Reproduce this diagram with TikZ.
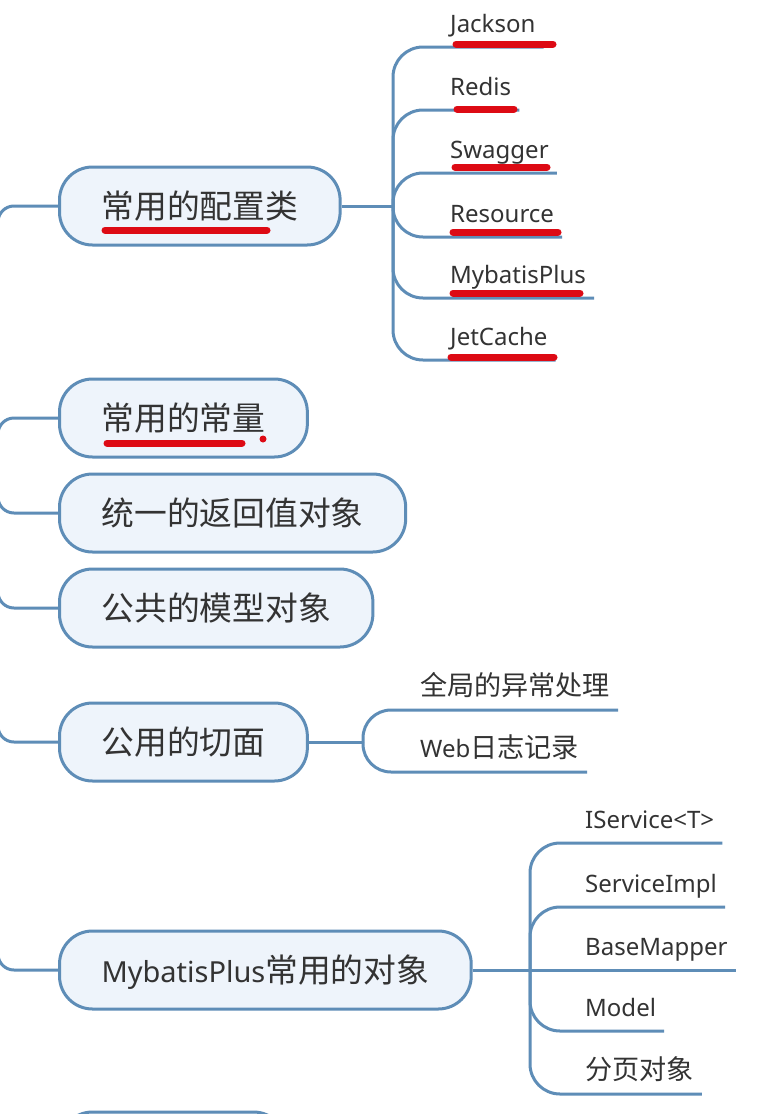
\documentclass[tikz,border=0pt]{standalone}
\usepackage{fontspec}
\setmainfont{Noto Sans}
\newfontfamily\cjk{Noto Sans CJK SC}[Scale=1.13]
\newcommand{\zh}[1]{{\cjk #1}}
\usepackage{tikz}
\definecolor{linkblue}{HTML}{5E8DB7}
\definecolor{topicfill}{HTML}{EEF4FB}
\definecolor{textgray}{HTML}{333333}
\definecolor{markred}{HTML}{DD0A14}

\begin{document}
\begin{tikzpicture}[x=1pt,y=-1pt,
      link/.style={linkblue,line width=3pt},
      topic/.style={draw=linkblue,line width=3pt,fill=topicfill,
         rounded corners=33pt,minimum height=78pt,inner xsep=42pt,
         text height=25pt,text depth=0pt,anchor=west,text=textgray,
         font=\fontsize{29}{34}\selectfont},
      leaf/.style={anchor=south west,inner xsep=8pt,inner ysep=8pt,
         text height=20pt,text depth=6pt,text=textgray,
         font=\fontsize{24}{28}\selectfont},
      redline/.style={markred,line width=7pt,line cap=round}]
            \fill [white] (0,0) rectangle (768,1114);
            \useasboundingbox (0,0) rectangle (768,1114);

            \node [topic] (cfg) at (58,206) {\zh{常用的配置类}};
            \node [topic] (const) at (58,418) {\zh{常用的常量}};
            \node [topic] (result) at (58,513) {\zh{统一的返回值对象}};
            \node [topic] (model) at (58,608) {\zh{公共的模型对象}};
            \node [topic] (aspect) at (58,742) {\zh{公用的切面}};
            \node [topic] (mpobj) at (58,970) {MybatisPlus\zh{常用的对象}};
            \node [topic,minimum width=227pt] (next) at (58,1151) {};

            \coordinate (trunk) at (-2,466);
            \foreach \topicname in {cfg,const,result,model,aspect,mpobj,next}
               \draw [link,rounded corners=16pt] (trunk) |- (\topicname.west);

            \node [leaf] (jackson) at (442,47) {Jackson};
            \node [leaf] (redis) at (442,110) {Redis};
            \node [leaf] (swagger) at (442,173) {Swagger};
            \node [leaf] (resource) at (442,237) {Resource};
            \node [leaf] (mplus) at (442,298) {MybatisPlus};
            \node [leaf] (jetcache) at (442,360) {JetCache};
            \coordinate (cfgfork) at (393,206);
            \draw [link] (cfg.east) -- (cfgfork);
            \foreach \leafname in {jackson,redis,swagger,resource,mplus,jetcache}
               \draw [link,rounded corners=30pt] (cfgfork) |- (\leafname.south east);

            \node [leaf] (handler) at (412,710) {\zh{全局的异常处理}};
            \node [leaf] (weblog) at (412,772) {Web\zh{日志记录}};
            \coordinate (aspectfork) at (363,742);
            \draw [link] (aspect.east) -- (aspectfork);
            \foreach \leafname in {handler,weblog}
               \draw [link,rounded corners=28pt] (aspectfork) |- (\leafname.south east);

            \node [leaf] (iservice) at (577,843) {IService<T>};
            \node [leaf] (serviceimpl) at (577,907) {ServiceImpl};
            \node [leaf] (basemapper) at (577,970) {BaseMapper};
            \node [leaf] (model2) at (577,1031) {Model};
            \node [leaf] (paging) at (577,1094) {\zh{分页对象}};
            \coordinate (mpfork) at (530,970);
            \draw [link] (mpobj.east) -- (basemapper.south east);
            \foreach \leafname in {iservice,serviceimpl,model2,paging}
               \draw [link,rounded corners=30pt] (mpfork) |- (\leafname.south east);

            \foreach \xa/\xb/\yy in {456/553/44,457/514/109,455/547/167,
                  453/558/232,453/580/293,451/554/357,105/267/230,107/242/443}
               \draw [redline] (\xa,\yy) -- (\xb,\yy);
            \fill [markred] (263,439) circle (3.5pt);
         \end{tikzpicture}
\end{document}
